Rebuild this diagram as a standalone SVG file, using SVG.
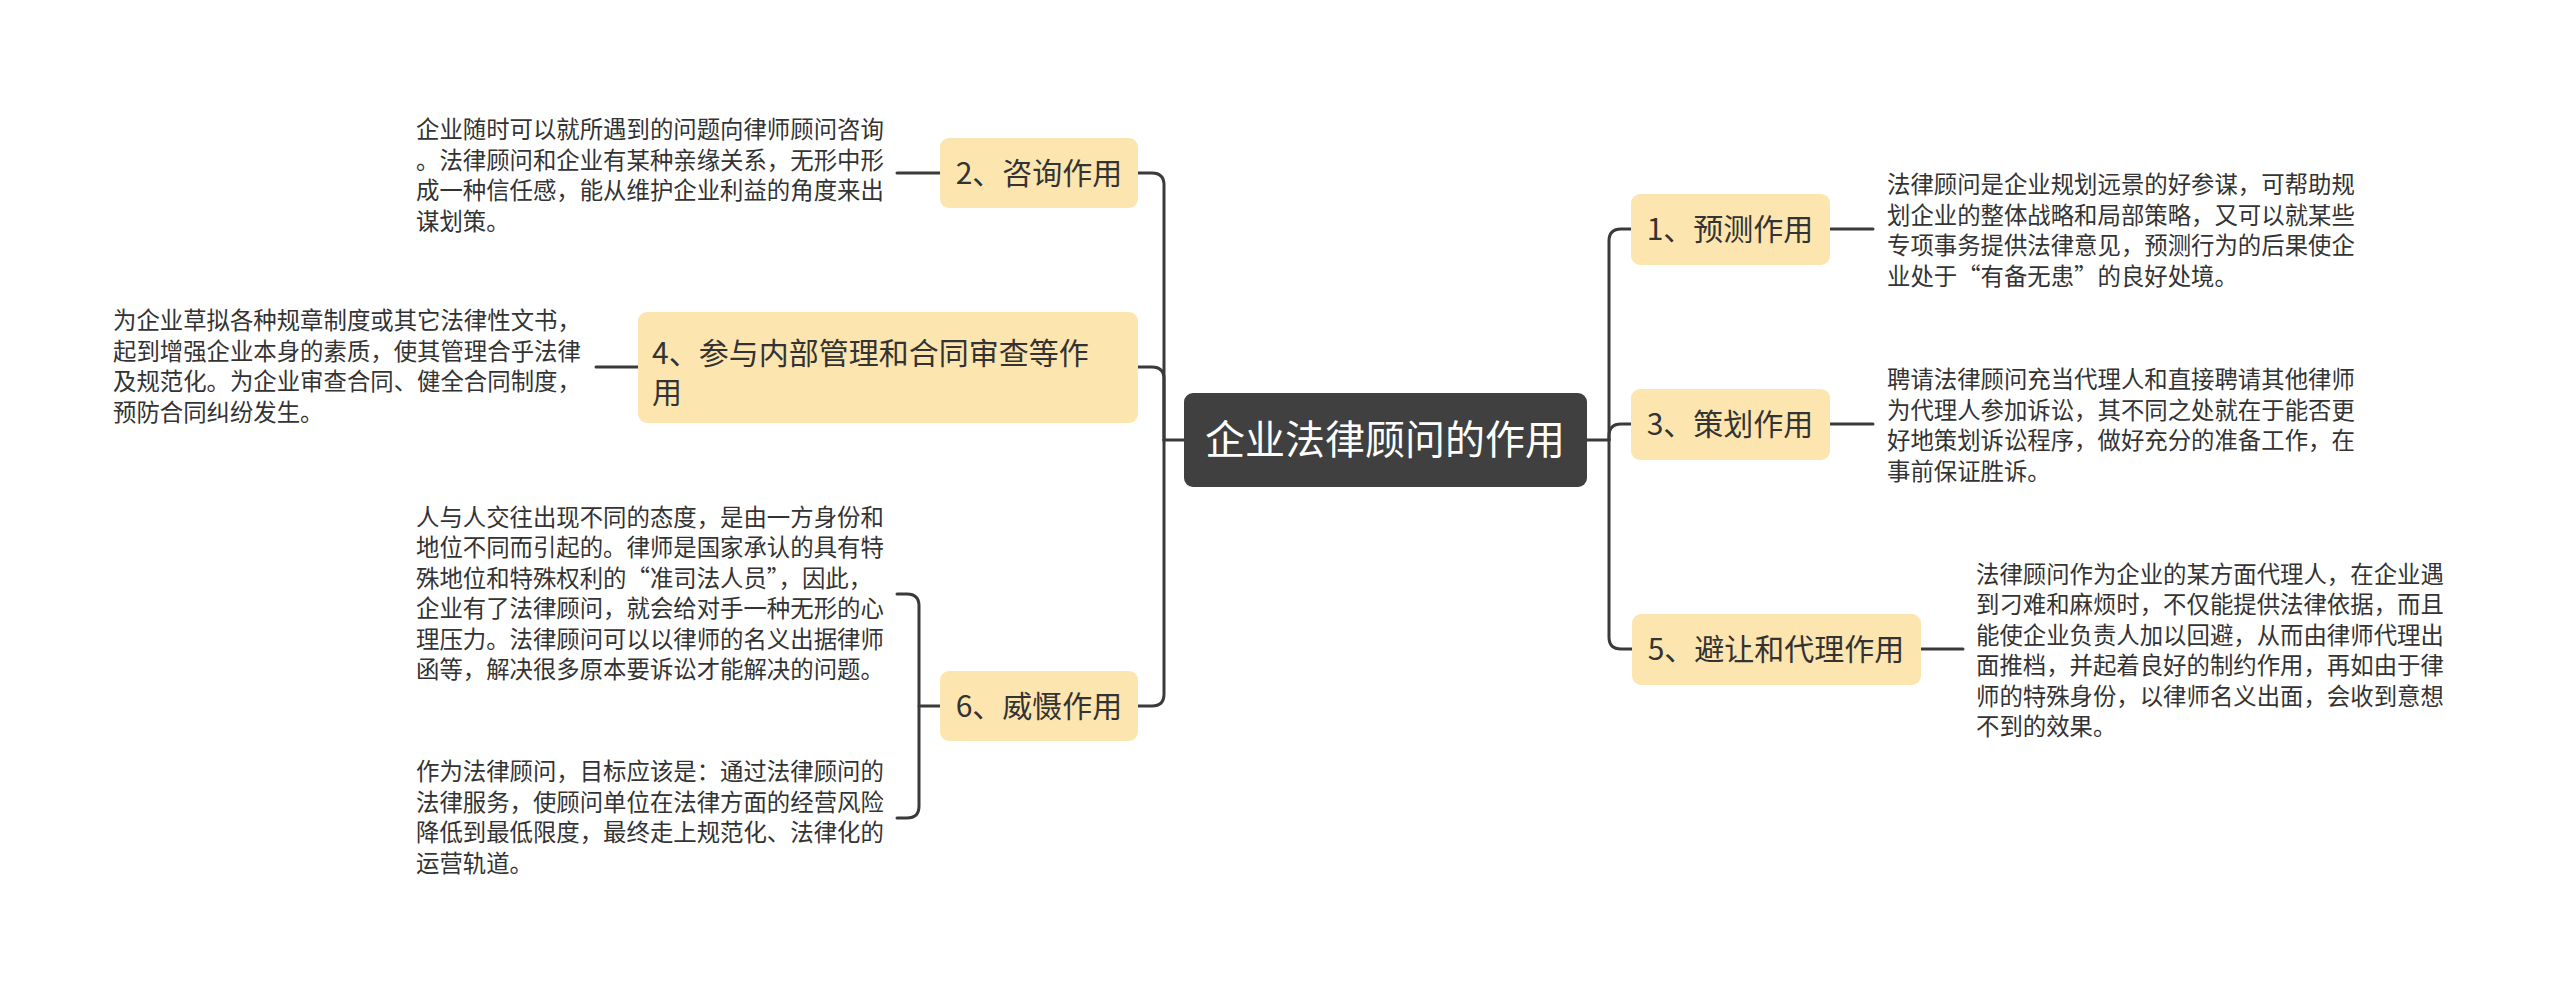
<svg xmlns="http://www.w3.org/2000/svg" width="2560" height="992" viewBox="0 0 2560 992">
<style>
text{font-family:"Noto Sans CJK SC","Noto Sans",sans-serif;fill:#333}
.box{fill:#fde5b0;stroke:none}
.nt{font-size:30px}
.dt{font-size:23.4px}
.ct{font-size:40px;fill:#fff}
.ln{fill:none;stroke:#3a3a3a;stroke-width:3;stroke-linecap:round}
</style>
<rect width="2560" height="992" fill="#fff"/>
<g id="connectors">
<path class="ln" d="M1184,440 H1164"/>
<path class="ln" d="M1164,440 V185 Q1164,173 1152,173 H1138"/>
<path class="ln" d="M1164,440 V379 Q1164,367 1152,367 H1138"/>
<path class="ln" d="M1164,440 V694 Q1164,706 1152,706 H1138"/>
<path class="ln" d="M1587,440 H1609"/>
<path class="ln" d="M1609,440 V241 Q1609,229 1621,229 H1631"/>
<path class="ln" d="M1609,440 V436 Q1609,424 1621,424 H1631"/>
<path class="ln" d="M1609,440 V637 Q1609,649 1621,649 H1632"/>
<path class="ln" d="M940,173 H897"/>
<path class="ln" d="M638,367 H596"/>
<path class="ln" d="M940,706 H919"/>
<path class="ln" d="M897,594 H907 Q919,594 919,606 V806 Q919,818 907,818 H897"/>
<path class="ln" d="M1830,229 H1873"/>
<path class="ln" d="M1830,424 H1873"/>
<path class="ln" d="M1921,649 H1963"/>
</g>
<g id="center">
<rect x="1184" y="393" width="403" height="94" rx="9" fill="#404040"/>
<text class="ct" x="1385" y="454" text-anchor="middle">企业法律顾问的作用</text>
</g>
<g id="n1">
<rect class="box" x="1631" y="194" width="199" height="71" rx="9"/>
<text class="nt" x="1730" y="240" text-anchor="middle">1、预测作用</text>
</g>
<g id="n3">
<rect class="box" x="1631" y="389" width="199" height="71" rx="9"/>
<text class="nt" x="1730" y="435" text-anchor="middle">3、策划作用</text>
</g>
<g id="n5">
<rect class="box" x="1632" y="614" width="289" height="71" rx="9"/>
<text class="nt" x="1776" y="660" text-anchor="middle">5、避让和代理作用</text>
</g>
<g id="n2">
<rect class="box" x="940" y="138" width="198" height="70" rx="9"/>
<text class="nt" x="1039" y="184" text-anchor="middle">2、咨询作用</text>
</g>
<g id="n4">
<rect class="box" x="638" y="312" width="500" height="111" rx="9"/>
<text class="nt" x="652" y="364">4、参与内部管理和合同审查等作</text>
<text class="nt" x="652" y="403">用</text>
</g>
<g id="n6">
<rect class="box" x="940" y="671" width="198" height="70" rx="9"/>
<text class="nt" x="1039" y="717" text-anchor="middle">6、威慑作用</text>
</g>
<g id="d2">
<text class="dt" x="416" y="138">企业随时可以就所遇到的问题向律师顾问咨询</text>
<text class="dt" x="416" y="169">。法律顾问和企业有某种亲缘关系，无形中形</text>
<text class="dt" x="416" y="199">成一种信任感，能从维护企业利益的角度来出</text>
<text class="dt" x="416" y="230">谋划策。</text>
</g>
<g id="d4">
<text class="dt" x="113" y="329">为企业草拟各种规章制度或其它法律性文书，</text>
<text class="dt" x="113" y="360">起到增强企业本身的素质，使其管理合乎法律</text>
<text class="dt" x="113" y="390">及规范化。为企业审查合同、健全合同制度，</text>
<text class="dt" x="113" y="421">预防合同纠纷发生。</text>
</g>
<g id="d6a">
<text class="dt" x="416" y="526">人与人交往出现不同的态度，是由一方身份和</text>
<text class="dt" x="416" y="556">地位不同而引起的。律师是国家承认的具有特</text>
<text class="dt" x="416" y="587">殊地位和特殊权利的“准司法人员”，因此，</text>
<text class="dt" x="416" y="617">企业有了法律顾问，就会给对手一种无形的心</text>
<text class="dt" x="416" y="648">理压力。法律顾问可以以律师的名义出据律师</text>
<text class="dt" x="416" y="678">函等，解决很多原本要诉讼才能解决的问题。</text>
</g>
<g id="d6b">
<text class="dt" x="416" y="780">作为法律顾问，目标应该是：通过法律顾问的</text>
<text class="dt" x="416" y="811">法律服务，使顾问单位在法律方面的经营风险</text>
<text class="dt" x="416" y="841">降低到最低限度，最终走上规范化、法律化的</text>
<text class="dt" x="416" y="872">运营轨道。</text>
</g>
<g id="d1">
<text class="dt" x="1887" y="193">法律顾问是企业规划远景的好参谋，可帮助规</text>
<text class="dt" x="1887" y="224">划企业的整体战略和局部策略，又可以就某些</text>
<text class="dt" x="1887" y="254">专项事务提供法律意见，预测行为的后果使企</text>
<text class="dt" x="1887" y="285">业处于“有备无患”的良好处境。</text>
</g>
<g id="d3">
<text class="dt" x="1887" y="388">聘请法律顾问充当代理人和直接聘请其他律师</text>
<text class="dt" x="1887" y="419">为代理人参加诉讼，其不同之处就在于能否更</text>
<text class="dt" x="1887" y="449">好地策划诉讼程序，做好充分的准备工作，在</text>
<text class="dt" x="1887" y="480">事前保证胜诉。</text>
</g>
<g id="d5">
<text class="dt" x="1976" y="583">法律顾问作为企业的某方面代理人，在企业遇</text>
<text class="dt" x="1976" y="613">到刁难和麻烦时，不仅能提供法律依据，而且</text>
<text class="dt" x="1976" y="644">能使企业负责人加以回避，从而由律师代理出</text>
<text class="dt" x="1976" y="674">面推档，并起着良好的制约作用，再如由于律</text>
<text class="dt" x="1976" y="705">师的特殊身份，以律师名义出面，会收到意想</text>
<text class="dt" x="1976" y="735">不到的效果。</text>
</g>
</svg>
